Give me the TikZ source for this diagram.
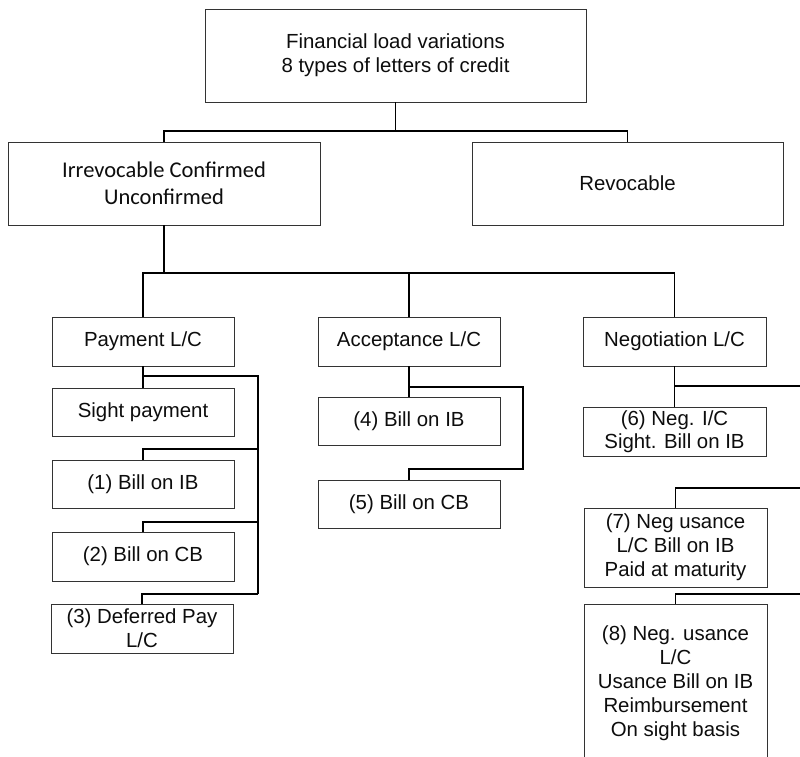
\documentclass[tikz,border=0pt]{standalone}
\usepackage{fontspec}
\setmainfont{Liberation Sans}
\newfontfamily\calfont{Carlito}
\begin{document}
\begin{tikzpicture}[x=1pt,y=-1pt,
  box/.style={draw=black!80, line width=0.9pt, fill=white, inner sep=0pt,
    align=center, text=black!95, font=\fontsize{20.4}{24}\selectfont},
  wide/.style={box, minimum width=312pt, minimum height=83pt},
  leaf/.style={box, minimum width=182pt, minimum height=48pt},
  link/.style={draw=black, line width=1.7pt, line join=miter},
  heavy/.style={draw=black, line width=2.6pt, line join=miter}]
\clip (0,0) rectangle (800,756);
\fill[white] (0,0) rectangle (800,756);

% top levels
\node[box, minimum width=381pt, minimum height=93pt] (top) at (395.5,55.5)
  {Financial load variations\\8 types of letters of credit};
\node[wide, font=\calfont\fontsize{22.5}{27}\selectfont] (irr) at (164,183.5)
  {Irrevocable Confirmed\\Unconfirmed};
\node[wide, minimum width=311pt] (rev) at (627.5,183.5) {Revocable};

% L/C families
\node[leaf, minimum height=49pt] (pay) at (143,341.5) {Payment L/C};
\node[leaf, minimum height=49pt] (acc) at (409,341.5) {Acceptance L/C};
\node[leaf, minimum height=49pt, minimum width=183pt] (neg) at (674.5,341.5) {Negotiation L/C};

% payment branch
\node[leaf] (sight) at (143,412) {Sight payment};
\node[leaf] (b1) at (143,484) {(1) Bill on IB};
\node[leaf, minimum height=49pt] (b2) at (143,556.5) {(2) Bill on CB};
\node[leaf, minimum height=49pt] (b3) at (142,628.5) {(3) Deferred Pay\\L/C};

% acceptance branch
\node[leaf] (b4) at (409,421) {(4) Bill on IB};
\node[leaf] (b5) at (409,504) {(5) Bill on CB};

% negotiation branch
\node[leaf, minimum width=183pt, minimum height=49pt,
  font=\fontsize{20.4}{22.5}\selectfont] (n6) at (674.5,431.5)
  {(6) Neg. I/C\\Sight. Bill on IB};
\node[leaf, minimum width=183pt, minimum height=79pt] (n7) at (675.5,547.5)
  {(7) Neg usance\\ L/C Bill on IB\\Paid at maturity};
\node[leaf, minimum width=183pt, minimum height=159pt] (n8) at (675.5,683.5)
  {(8) Neg. usance\\L/C\\Usance Bill on IB\\Reimbursement\\On sight basis};

% junction points
\coordinate (j0) at (395.5,131);
\coordinate (j1) at (164,273);
\coordinate (pj) at (143,376);
\coordinate (pr) at (258,376);
\coordinate (pr1) at (258,449);
\coordinate (pr2) at (258,522);
\coordinate (pr3) at (258,594);
\coordinate (aj) at (409,387);
\coordinate (ar) at (523,387);
\coordinate (ar1) at (523,469);
\coordinate (nj) at (674.5,386);
\coordinate (e6) at (800,386);
\coordinate (e7) at (800,488);
\coordinate (e8) at (800,594);

% first split
\draw[link] (top.south) -- (j0);
\draw[link] (irr.north) |- (j0) -| (rev.north);

% second split
\draw[link] (irr.south) -- (j1);
\draw[link] (pay.north) |- (j1) -| (neg.north);
\draw[link] (acc.north) -- (acc.north |- j1);

% payment connectors
\draw[link] (pay.south) -- (pj) -- (sight.north);
\draw[heavy] (pj) -- (pr) -- (pr2);
\draw[link] (pr2) -- (pr3);
\draw[heavy] (pr1) -| (b1.north);
\draw[heavy] (pr2) -| (b2.north);
\draw[link] (pr3) -| (b3.north);

% acceptance connectors
\draw[link] (acc.south) -- (aj) -- (b4.north);
\draw[link] (aj) -- (ar) -- (ar1) -| (b5.north);

% negotiation connectors
\draw[link] (neg.south) -- (nj) -- (n6.north);
\draw[link] (nj) -- (e6);
\draw[link] (e7) -| (n7.north);
\draw[link] (e8) -| (n8.north);
\end{tikzpicture}
\end{document}
